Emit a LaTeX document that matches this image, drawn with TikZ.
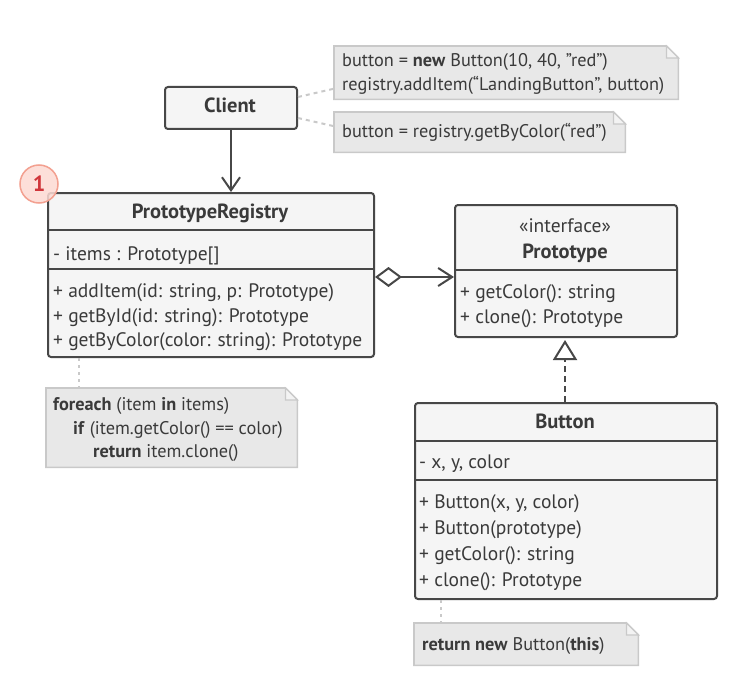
\documentclass[tikz,border=0pt]{standalone}
\usepackage{fontspec}
\setmainfont{PT Sans}
\usetikzlibrary{arrows.meta,calc}
\definecolor{ink}{HTML}{474747}
\definecolor{txt}{HTML}{3A3A3A}
\definecolor{boxfill}{HTML}{F5F5F5}
\definecolor{notefill}{HTML}{E8E8E8}
\definecolor{notedraw}{HTML}{C9C9C9}
\definecolor{foldfill}{HTML}{F3F3F3}
\definecolor{badgefill}{HTML}{FDDAD3}
\definecolor{badgeline}{HTML}{F3A090}
\definecolor{badgetext}{HTML}{D0353A}
\tikzset{
  classbox/.style={draw=ink, fill=boxfill, line width=2pt, rounded corners=3pt, anchor=north west, inner sep=0pt},
  divider/.style={draw=ink, line width=2pt},
  lbl/.style={anchor=base west, inner sep=0pt, text=txt, font=\fontsize{19.5pt}{22pt}\selectfont},
  ttl/.style={anchor=base, inner sep=0pt, text=txt, font=\fontsize{20.5pt}{22pt}\selectfont\bfseries},
  stereo/.style={anchor=base, inner sep=0pt, text=txt, font=\fontsize{19.5pt}{22pt}\selectfont},
  notearea/.style={anchor=north west, inner sep=0pt},
  notetxt/.style={anchor=base west, inner sep=0pt, text=txt, font=\fontsize{18.3pt}{22pt}\selectfont},
  noteshape/.style={draw=notedraw, fill=notefill, line width=1.6pt, line join=miter},
  foldshape/.style={draw=notedraw, fill=foldfill, line width=1.2pt},
  link/.style={draw=ink, line width=2pt},
  notelink/.style={draw=notedraw, line width=2pt, dash pattern=on 4pt off 4pt},
}
\newcommand{\notepath}[1]{%
  \draw[noteshape] (#1.south west) -- (#1.north west) -- ([xshift=-12pt]#1.north east)
    -- ([yshift=-12pt]#1.north east) -- (#1.south east) -- cycle;
  \draw[foldshape] ([xshift=-12pt]#1.north east) -- ([xshift=-12pt,yshift=-12pt]#1.north east)
    -- ([yshift=-12pt]#1.north east) -- cycle;}
\begin{document}
\begin{tikzpicture}[x=1pt,y=-1pt]
\useasboundingbox (0,0) rectangle (747,682);
\fill[white] (0,0) rectangle (747,682);

% ---- Client
\node[classbox, minimum width=132pt, minimum height=42pt] (client) at (164,86) {};
\node[ttl] (clientT) at (230,113) {Client};

% ---- Notes near client
\node[notearea, minimum width=344pt, minimum height=53pt] (n1) at (334,46) {};
\notepath{n1}
\node[notetxt] (n1a) at (342,67) {button = \textbf{new} Button(10, 40, ”red”)};
\node[notetxt] (n1b) at (342,91) {registry.addItem(“LandingButton”, button)};

\node[notearea, minimum width=291pt, minimum height=40pt] (n2) at (334,112) {};
\notepath{n2}
\node[notetxt] (n2a) at (342,138) {button = registry.getByColor(“red”)};

\draw[notelink] ([yshift=11pt]client.east) -- ([yshift=-16pt]n1.west);
\draw[notelink] ([yshift=-10pt]client.east) -- ([yshift=6pt]n2.west);

% ---- PrototypeRegistry
\node[classbox, minimum width=326pt, minimum height=164pt] (reg) at (47,192) {};
\draw[divider] ($(reg.north west)+(0,38)$) -- ($(reg.north east)+(0,38)$);
\draw[divider] ($(reg.north west)+(0,77)$) -- ($(reg.north east)+(0,77)$);
\node[ttl] (regT) at (210,218) {PrototypeRegistry};
\node[lbl] (regF) at (53,260) {- items : Prototype[]};
\node[lbl] (regM1) at (53,297) {+ addItem(id: string, p: Prototype)};
\node[lbl] (regM2) at (53,322) {+ getById(id: string): Prototype};
\node[lbl] (regM3) at (53,346) {+ getByColor(color: string): Prototype};

% ---- badge
\node[circle, draw=badgeline, fill=badgefill, fill opacity=0.85, text opacity=1, line width=1.5pt,
      minimum size=38pt, inner sep=0pt, text=badgetext,
      font=\fontsize{22pt}{22pt}\selectfont\bfseries] (badge) at (39,184) {1};

% ---- Client -> Registry
\draw[link, -{Straight Barb[length=13pt,width=18pt,line width=2pt]}] (client.south) -- (reg.north -| client.south);

% ---- Prototype interface
\node[classbox, minimum width=222pt, minimum height=132pt] (proto) at (454,204) {};
\draw[divider] ($(proto.north west)+(0,66)$) -- ($(proto.north east)+(0,66)$);
\node[stereo] (protoS) at (565,232) {«interface»};
\node[ttl] (protoT) at (565,258) {Prototype};
\node[lbl] (protoM1) at (460,298) {+ getColor(): string};
\node[lbl] (protoM2) at (460,323) {+ clone(): Prototype};

% ---- aggregation
\coordinate (aggS) at (reg.east |- 0,277);
\coordinate (aggE) at (proto.west |- 0,277);
\draw[link, {Diamond[open,fill=white,length=27pt,width=20pt,line width=2pt]}-{Straight Barb[length=14pt,width=18pt,line width=2pt]}] (aggS) -- (aggE);

% ---- Button
\node[classbox, minimum width=302pt, minimum height=196pt] (btn) at (414,402) {};
\draw[divider] ($(btn.north west)+(0,39)$) -- ($(btn.north east)+(0,39)$);
\draw[divider] ($(btn.north west)+(0,78)$) -- ($(btn.north east)+(0,78)$);
\node[ttl] (btnT) at (565,428) {Button};
\node[lbl] (btnF) at (419,468) {- x, y, color};
\node[lbl] (btnM1) at (419,508) {+ Button(x, y, color)};
\node[lbl] (btnM2) at (419,534) {+ Button(prototype)};
\node[lbl] (btnM3) at (419,560) {+ getColor(): string};
\node[lbl] (btnM4) at (419,586) {+ clone(): Prototype};

% ---- realization
\draw[link, dash pattern=on 6pt off 4pt, -{Triangle[open,fill=white,length=20pt,width=24pt,line width=2pt,sep=2pt]}]
  (btn.north -| 565,0) -- (proto.south -| 565,0);

% ---- Note 3
\node[notearea, minimum width=251pt, minimum height=79pt] (n3) at (46,388) {};
\notepath{n3}
\node[notetxt] (n3a) at (53,410) {\textbf{foreach} (item \textbf{in} items)};
\node[notetxt] (n3b) at (73,434) {\textbf{if} (item.getColor() == color)};
\node[notetxt] (n3c) at (93,457) {\textbf{return} item.clone()};
\draw[notelink, dash pattern=on 3pt off 4pt] (reg.south -| 79,0) -- (n3.north -| 79,0);

% ---- Note 4
\node[notearea, minimum width=224pt, minimum height=42pt] (n4) at (414,623) {};
\notepath{n4}
\node[notetxt] (n4a) at (422,650) {\textbf{return new} Button(\textbf{this})};
\draw[notelink, dash pattern=on 3pt off 4pt] (btn.south -| 441,0) -- (n4.north -| 441,0);
\end{tikzpicture}
\end{document}
